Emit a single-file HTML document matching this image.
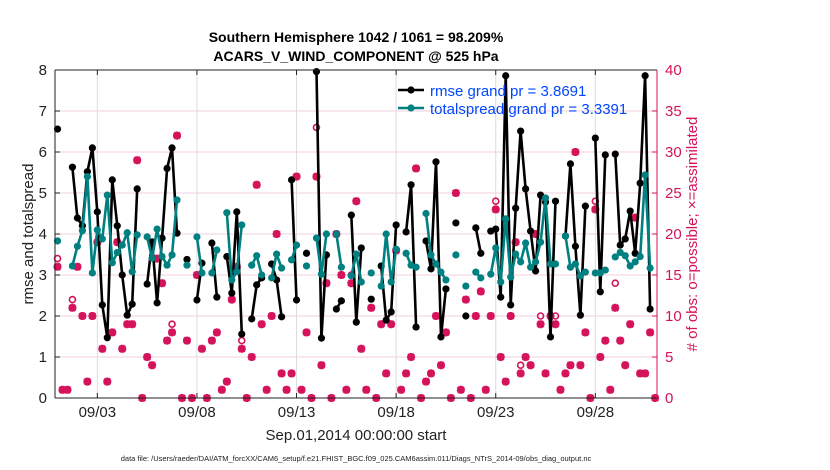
<!DOCTYPE html>
<html><head><meta charset="utf-8">
<style>body{margin:0;background:#fff;font-family:"Liberation Sans",sans-serif}svg{display:block}</style>
</head><body>
<svg id="chart" width="830" height="470" xmlns="http://www.w3.org/2000/svg"></svg>
<script>
const N=null;
const rmse=[6.56,N,N,5.63,4.39,4.2,5.52,6.1,4.54,2.27,1.47,5.32,4.2,3.0,2.02,2.29,5.1,N,2.78,3.81,2.32,3.9,5.6,6.1,4.02,N,3.38,N,2.39,3.29,N,3.78,2.46,N,3.45,2.56,4.54,1.56,N,1.93,2.76,2.93,N,3.27,2.88,1.98,N,5.32,2.39,N,3.53,N,7.96,1.46,3.49,N,2.17,2.37,N,4.46,1.85,3.66,N,2.41,N,3.22,1.9,2.1,4.22,N,4.05,5.2,1.73,N,3.83,3.15,5.76,1.49,2.66,N,4.27,N,2.0,N,4.15,3.53,N,4.07,4.12,2.46,7.86,2.27,4.63,6.51,5.1,4.07,3.1,4.95,4.78,1.49,4.8,N,3.95,5.71,3.7,2.02,4.68,N,6.34,2.59,5.93,N,5.95,3.73,3.88,4.56,3.53,5.24,7.86,2.17,N];
const spread=[3.83,N,N,3.22,3.7,4.08,5.4,3.05,4.1,3.88,4.95,3.3,3.55,3.73,4.03,3.08,3.98,N,3.93,3.41,4.12,3.45,3.24,3.49,4.83,N,3.24,N,3.93,3.05,N,3.05,3.61,N,4.52,2.88,3.08,4.22,N,3.24,3.47,3.0,N,2.93,3.51,3.17,N,3.37,3.73,N,3.22,N,3.9,3.02,4.0,N,4.0,3.19,N,2.98,3.51,2.83,N,3.05,N,2.73,4.0,2.83,3.63,N,3.53,3.24,3.19,N,4.5,3.49,3.27,3.07,2.88,N,3.49,N,2.73,N,3.07,2.93,N,3.02,3.66,2.83,4.37,2.95,3.51,3.32,3.78,3.19,3.32,3.8,4.88,3.27,3.27,N,3.95,3.19,3.27,2.98,3.07,N,3.05,3.05,3.12,N,3.44,3.55,3.47,3.22,3.32,3.45,5.44,3.17,N];
const assimilated=[16,1,1,11,16,10,2,10,19,6,2,8,19,6,9,9,29,0,5,4,17,14,7,8,32,0,7,0,15,6,0,7,8,1,2,12,16,6,0,5,26,9,1,10,20,3,1,3,27,1,8,0,27,4,14,0,20,15,1,14,24,6,1,11,0,9,3,9,18,1,3,5,28,0,2,3,10,4,8,0,25,1,12,0,10,13,1,10,23,5,2,10,19,3,5,4,20,9,3,10,9,1,3,4,30,4,8,0,23,5,7,1,11,7,4,9,22,3,3,8,0];
const possibleDiffIdx=[0,3,23,37,52,59,88,93,97,100,108,112];
const possibleDiffVal=[17,12,9,7,33,15,24,4,10,10,24,14];
const xTickLabels=["09/03","09/08","09/13","09/18","09/23","09/28"];
const xTickDays=[2,7,12,17,22,27];
const yTicksL=[0,1,2,3,4,5,6,7,8];
const yTicksR=[0,5,10,15,20,25,30,35,40];

const svg=document.getElementById('chart');
const NS='http://www.w3.org/2000/svg';
const L=55,R=657,T=70,B=398;
const X=d=>57.5+d*19.92;
const YL=v=>B-(v/8)*(B-T);
const YR=v=>B-(v/40)*(B-T);
const RED='#d5135b';
function el(t,a,p){const e=document.createElementNS(NS,t);for(const k in a)e.setAttribute(k,a[k]);(p||svg).appendChild(e);return e;}
function txt(s,a){const e=el('text',a);e.textContent=s;return e;}

yTicksL.forEach(v=>{if(v>0&&v<8){const g=el('line',{x1:L,x2:R,y1:YL(v),y2:YL(v),stroke:'#f3cfe0','stroke-width':1});

}});
xTickDays.forEach((d,i)=>{const g=el('line',{x1:X(d),x2:X(d),y1:T,y2:B,stroke:'#dcdcdc','stroke-width':1});


const tk=txt(xTickLabels[i],{x:X(d),y:417,'font-size':15,'text-anchor':'middle',fill:'#222'});

});
yTicksL.forEach(v=>{const t=txt(String(v),{x:47,y:YL(v)+5,'font-size':15,'text-anchor':'end',fill:'#222'});


el('line',{x1:L,x2:L+5,y1:YL(v),y2:YL(v),stroke:'#222'});});
yTicksR.forEach(v=>{const t=txt(String(v),{x:665,y:YR(v)+5,'font-size':15,fill:RED});


el('line',{x1:R-5,x2:R,y1:YR(v),y2:YR(v),stroke:RED});});
xTickDays.forEach(d=>{el('line',{x1:X(d),x2:X(d),y1:B,y2:B-5,stroke:'#222'});el('line',{x1:X(d),x2:X(d),y1:T,y2:T+5,stroke:'#222'});});

const possible=assimilated.slice();
possibleDiffIdx.forEach((idx,k)=>{possible[idx]=possibleDiffVal[k];});
possible.forEach((v,i)=>{if(v==null)return;const c=el('circle',{cx:X(i/4),cy:YR(v),r:3,fill:'none',stroke:RED,'stroke-width':1.6});

});
assimilated.forEach((v,i)=>{if(v==null)return;const x=X(i/4),y=YR(v),s=4;
const p=el('path',{d:`M${x-s} ${y}H${x+s}M${x} ${y-s}V${y+s}M${x-3} ${y-3}L${x+3} ${y+3}M${x-3} ${y+3}L${x+3} ${y-3}`,stroke:RED,'stroke-width':2.6,fill:'none'});

});

function series(arr,color,name){
 let d='';let pen=false;
 arr.forEach((v,i)=>{if(v==null){pen=false;return;}d+=(pen?'L':'M')+X(i/4).toFixed(1)+' '+YL(v).toFixed(1);pen=true;});
 const p=el('path',{d:d,stroke:color,'stroke-width':2.6,fill:'none','stroke-linejoin':'round'});
 
 
 arr.forEach((v,i)=>{if(v==null)return;const c=el('circle',{cx:X(i/4),cy:YL(v),r:3.6,fill:color});
 
 });
}
series(rmse,'#000','rmse');
series(spread,'#008080','totalspread');

el('line',{x1:L,x2:R,y1:T,y2:T,stroke:'#222'});
el('line',{x1:L,x2:R,y1:B,y2:B,stroke:'#222'});
el('line',{x1:L,x2:L,y1:T,y2:B,stroke:'#222'});
el('line',{x1:R,x2:R,y1:T,y2:B,stroke:RED});

el('line',{x1:398,x2:424,y1:90,y2:90,stroke:'#000','stroke-width':2.6});el('circle',{cx:411,cy:90,r:3.6,fill:'#000'});
el('line',{x1:398,x2:424,y1:108,y2:108,stroke:'#008080','stroke-width':2.6});el('circle',{cx:411,cy:108,r:3.6,fill:'#008080'});
const l1=txt('rmse grand pr = 3.8691',{x:430,y:96,'font-size':15,fill:'#0047ff'});


const l2=txt('totalspread grand pr = 3.3391',{x:430,y:114,'font-size':15,fill:'#0047ff'});



const t1=txt('Southern Hemisphere 1042 / 1061 = 98.209%',{x:356,y:42,'font-size':14,'font-weight':'bold','text-anchor':'middle'});


const t2=txt('ACARS_V_WIND_COMPONENT @ 525 hPa',{x:356,y:61,'font-size':14,'font-weight':'bold','text-anchor':'middle'});


const yl=txt('rmse and totalspread',{x:0,y:0,'font-size':15,'text-anchor':'middle',fill:'#222',transform:'translate(33,234) rotate(-90)'});


const yr=txt('# of obs: o=possible; \u00d7=assimilated',{x:0,y:0,'font-size':15,'text-anchor':'middle',fill:RED,transform:'translate(697,234) rotate(-90)'});


const xl=txt('Sep.01,2014 00:00:00 start',{x:356,y:440,'font-size':15,'text-anchor':'middle',fill:'#222'});


const fn=txt('data file: /Users/raeder/DAI/ATM_forcXX/CAM6_setup/f.e21.FHIST_BGC.f09_025.CAM6assim.011/Diags_NTrS_2014-09/obs_diag_output.nc',{x:356,y:461,'font-size':7.5,'text-anchor':'middle',fill:'#222'});


</script>
</body></html>
